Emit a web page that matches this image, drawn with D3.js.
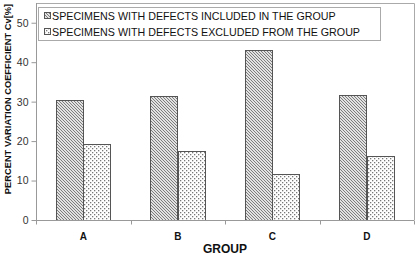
<!DOCTYPE html>
<html>
<head>
<meta charset="utf-8">
<script src="https://cdn.jsdelivr.net/npm/d3@7"></script>
<style>
  body { margin: 0; background: #fff; }
  svg { display: block; font-family: "Liberation Sans", Arial, sans-serif; }
</style>
</head>
<body>
<div id="chart"></div>
<script>
// chart data
var groups = ["A", "B", "C", "D"];
var seriesNames = ["SPECIMENS WITH DEFECTS INCLUDED IN THE GROUP",
                   "SPECIMENS WITH DEFECTS EXCLUDED FROM THE GROUP"];
var included = [30.5, 31.5, 43.0, 31.7];
var excluded = [19.2, 17.4, 11.6, 16.2];
var yTicks = [0, 10, 20, 30, 40, 50];

var width = 419, height = 254;
// plot area edges (note: "top" is reserved on window)
var plotLeft = 36, plotRight = 414, plotTop = 3, plotBottom = 220;

var svg = d3.select("#chart").append("svg")
    .attr("width", width)
    .attr("height", height);

// fill patterns
var defs = svg.append("defs");
var hatch = defs.append("pattern")
    .attr("id", "hatch")
    .attr("patternUnits", "userSpaceOnUse")
    .attr("width", 3).attr("height", 3);
hatch.append("rect").attr("width", 3).attr("height", 3).attr("fill", "#e2e2e2");
hatch.append("path").attr("d", "M0,0 L3,3 M-1,2 L1,4 M2,-1 L4,1")
    .attr("stroke", "#6a6a6a").attr("stroke-width", 0.85);

var dots = defs.append("pattern")
    .attr("id", "dots")
    .attr("patternUnits", "userSpaceOnUse")
    .attr("width", 4).attr("height", 4);
dots.append("rect").attr("width", 4).attr("height", 4).attr("fill", "#fff");
dots.append("rect").attr("x", 0).attr("y", 0).attr("width", 1.3).attr("height", 1.3).attr("fill", "#777");
dots.append("rect").attr("x", 2).attr("y", 2).attr("width", 1.3).attr("height", 1.3).attr("fill", "#777");

var fills = ["url(#hatch)", "url(#dots)"];

// scales
var x0 = d3.scaleBand().domain(groups).range([plotLeft, plotRight]).paddingInner(0).paddingOuter(0);
var x1 = d3.scaleBand().domain([0, 1]).range([0, x0.bandwidth()]).paddingInner(0).paddingOuter(0.72);
var y = d3.scaleLinear().domain([0, 55]).range([plotBottom, plotTop]);

// plot frame (top and right)
svg.append("path")
    .attr("d", "M" + plotLeft + "," + (plotTop + 0.5) + " H" + (plotRight + 0.5) + " V" + plotBottom)
    .attr("fill", "none").attr("stroke", "#aaa");

// bars
var data = [included, excluded];
data.forEach(function(vals, s) {
    svg.selectAll(".bar" + s)
        .data(vals)
        .enter().append("rect")
        .attr("x", function(d, i) { return Math.round(x0(groups[i]) + x1(s)) + 0.5; })
        .attr("y", function(d) { return Math.round(y(d)) + 0.5; })
        .attr("width", Math.round(x1.bandwidth()))
        .attr("height", function(d) { return Math.round(y(0)) - Math.round(y(d)); })
        .attr("fill", fills[s])
        .attr("stroke", "#555")
        .attr("stroke-width", 1);
});

// y axis
var yAxis = svg.append("g")
    .attr("transform", "translate(" + (plotLeft + 0.5) + ",0)")
    .call(d3.axisLeft(y).tickValues(yTicks).tickSize(5).tickPadding(3));
yAxis.select(".domain").attr("stroke", "#999").attr("d", "M0," + plotTop + "V" + plotBottom);
yAxis.selectAll(".tick line").attr("stroke", "#999");
yAxis.selectAll("text").attr("fill", "#333").style("font-size", "10.5px");

// x axis
var xAxis = svg.append("g")
    .attr("transform", "translate(0," + (plotBottom + 0.5) + ")");
xAxis.append("line")
    .attr("x1", plotLeft).attr("x2", plotRight)
    .attr("stroke", "#999");
xAxis.selectAll(".xt")
    .data(groups.concat(["end"]))
    .enter().append("line")
    .attr("x1", function(d, i) { return Math.round(plotLeft + i * x0.step()) + 0.5; })
    .attr("x2", function(d, i) { return Math.round(plotLeft + i * x0.step()) + 0.5; })
    .attr("y1", 0).attr("y2", 4)
    .attr("stroke", "#999");
xAxis.selectAll(".xl")
    .data(groups)
    .enter().append("text")
    .attr("x", function(d) { return x0(d) + x0.bandwidth() / 2; })
    .attr("y", 19.5)
    .attr("text-anchor", "middle")
    .style("font-size", "10px")
    .style("font-weight", "bold")
    .attr("fill", "#111")
    .text(function(d) { return d; });

// axis titles
svg.append("text")
    .attr("x", 225).attr("y", 252.5)
    .attr("text-anchor", "middle")
    .style("font-size", "12px")
    .style("font-weight", "bold")
    .attr("fill", "#111")
    .text("GROUP");

svg.append("text")
    .attr("transform", "translate(11,99) rotate(-90)")
    .attr("text-anchor", "middle")
    .style("font-size", "9.3px")
    .style("font-weight", "bold")
    .attr("fill", "#111")
    .text("PERCENT VARIATION COEFFICIENT Cv[%]");

// legend
var legend = svg.append("g");
legend.append("rect")
    .attr("x", 38.5).attr("y", 7.5)
    .attr("width", 342).attr("height", 33)
    .attr("fill", "#fff").attr("stroke", "#aaa");
seriesNames.forEach(function(name, s) {
    var cy = 16 + s * 16;
    legend.append("rect")
        .attr("x", 44.5).attr("y", cy - 3.5)
        .attr("width", 6).attr("height", 6)
        .attr("fill", fills[s]).attr("stroke", "#555");
    legend.append("text")
        .attr("x", 52).attr("y", cy + 3.8)
        .style("font-size", "10.7px")
        .attr("fill", "#111")
        .text(name);
});
</script>
</body>
</html>
